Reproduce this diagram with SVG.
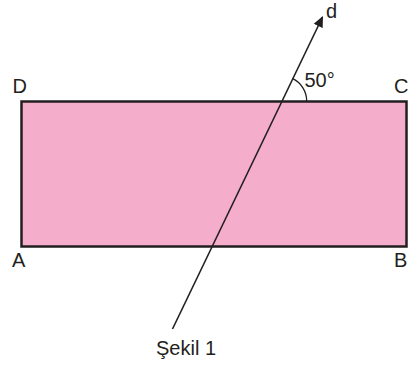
<svg xmlns="http://www.w3.org/2000/svg" width="413" height="367" viewBox="0 0 413 367">
<style>
text{font-family:"Liberation Sans",Arial,sans-serif;font-size:20px;fill:#231f20}
.ln{stroke:#231f20;fill:none}
.box{stroke:#231f20;fill:#f4aecb}
</style>
<defs>
<marker id="arr" viewBox="0 0 10 10" refX="9" refY="5" markerWidth="11" markerHeight="11" markerUnits="userSpaceOnUse" orient="auto">
<path d="M0,0.5 L10,5 L0,9.5 Z" fill="#231f20"/>
</marker>
</defs>
<g id="rect">
<rect x="21.5" y="101.5" width="385" height="145" class="box" stroke-width="2.5"/>
</g>
<g id="connectors">
<line x1="172.5" y1="329" x2="322.5" y2="17" class="ln" stroke-width="1.6" marker-end="url(#arr)"/>
<path d="M306.7,101 A24.7,24.7 0 0 0 292.7,78.7" class="ln" stroke-width="1.3"/>
</g>
<g id="labels">
<text x="12.5" y="93">D</text>
<text x="394" y="93">C</text>
<text x="12" y="267">A</text>
<text x="394" y="267">B</text>
<text x="326" y="18">d</text>
<text x="304.5" y="87">50°</text>
<text x="156" y="355">Şekil 1</text>
</g>
</svg>
